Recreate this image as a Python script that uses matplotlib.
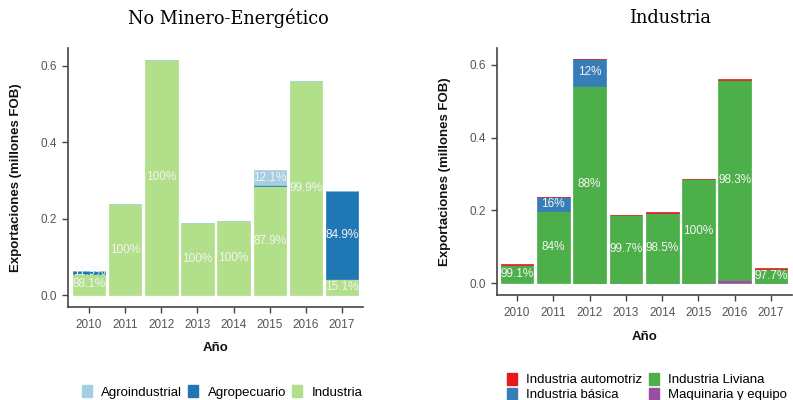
import numpy as np
import matplotlib
matplotlib.use("Agg")
import matplotlib.pyplot as plt
from matplotlib.patches import Patch

# ---------------- data ----------------
years = ["2010", "2011", "2012", "2013", "2014", "2015", "2016", "2017"]

# No Minero-Energetico: totals (millones FOB) and shares (%)
total_ne = [0.063, 0.2385, 0.616, 0.189, 0.194, 0.325, 0.561, 0.272]
pct_industria = [88.1, 99.97, 99.97, 99.97, 99.97, 87.9, 99.9, 15.1]
pct_agropecuario = [11.9, 0.0, 0.0, 0.0, 0.0, 0.4, 0.0, 84.9]
pct_agroindustrial = [0.03, 0.03, 0.03, 0.03, 0.03, 12.1, 0.1, 0.03]

# Industria: totals and shares (%)
total_ind = [0.052, 0.238, 0.616, 0.1876, 0.195, 0.2857, 0.560, 0.041]
pct_maquinaria = [0.0, 0.0, 0.05, 0.05, 0.05, 0.05, 1.5, 0.3]
pct_liviana = [99.1, 84.0, 88.0, 99.7, 98.5, 99.97, 98.3, 97.7]
pct_basica = [0.0, 16.0, 12.0, 0.0, 0.8, 0.0, 0.0, 0.0]
pct_automotriz = [0.9, 0.1, 0.1, 0.2, 0.6, 0.1, 0.2, 2.0]

left_series = [("Industria", pct_industria, "#b2df8a"),
               ("Agropecuario", pct_agropecuario, "#1f78b4"),
               ("Agroindustrial", pct_agroindustrial, "#a6cee3")]
right_series = [("Maquinaria y equipo", pct_maquinaria, "#984ea3"),
                ("Industria Liviana", pct_liviana, "#4daf4a"),
                ("Industria básica", pct_basica, "#377eb8"),
                ("Industria automotriz", pct_automotriz, "#e41a1c")]

SANS = ["Liberation Sans", "DejaVu Sans"]
AXCOL = "#444444"


def fmt_pct(p):
    s = "%.1f" % p
    if s.endswith(".0"):
        s = s[:-2]
    return s + "%"


def stacked(ax, totals, series):
    x = np.arange(1, len(years) + 1)
    bottom = np.zeros(len(years))
    for name, pct, col in series:
        h = np.array(totals) * np.array(pct) / 100.0
        for i in range(len(x)):
            if h[i] <= 0:
                continue
            ax.bar(x[i], h[i], bottom=bottom[i], width=0.9, color=col,
                   edgecolor=col, linewidth=0.5)
            if pct[i] >= 5:
                ax.text(x[i], bottom[i] + h[i] / 2, fmt_pct(pct[i]),
                        ha="center", va="center", color="#f4f4f4",
                        fontsize=8.5, family=SANS)
        bottom = bottom + h
    ax.set_xticks(x)
    ax.set_xticklabels(years)
    ax.set_yticks([0.0, 0.2, 0.4, 0.6])
    ax.set_yticklabels(["0.0", "0.2", "0.4", "0.6"])
    for s in ["top", "right"]:
        ax.spines[s].set_visible(False)
    for s in ["left", "bottom"]:
        ax.spines[s].set_color(AXCOL)
        ax.spines[s].set_linewidth(1.2)
    ax.tick_params(colors=AXCOL, labelcolor="#555555", labelsize=8.5,
                   length=4, width=1.0)
    ax.tick_params(axis="x", pad=5)
    ax.tick_params(axis="y", pad=4)
    for lab in ax.get_xticklabels() + ax.get_yticklabels():
        lab.set_family(SANS)
    ax.set_xlabel("Año", fontsize=9.5, fontweight="bold", family=SANS,
                  color="#111111", labelpad=8)
    ax.set_ylabel("Exportaciones (millones FOB)", fontsize=9.5,
                  fontweight="bold", family=SANS, color="#111111", labelpad=13)


fig = plt.figure(figsize=(7.93, 4.0), dpi=100)
ax1 = fig.add_axes([0.0858, 0.233, 0.372, 0.647])
ax2 = fig.add_axes([0.6264, 0.2625, 0.372, 0.617])

stacked(ax1, total_ne, left_series)
ax1.set_xlim(0.419, 8.58)
ax1.set_ylim(-0.0307, 0.647)

stacked(ax2, total_ind, right_series)
ax2.set_xlim(0.441, 8.57)
ax2.set_ylim(-0.0321, 0.6456)

fig.text(228 / 793, 1 - 18 / 400, "No Minero-Energético", ha="center",
         va="center", fontsize=12.8, family="DejaVu Serif")
fig.text(670 / 793, 1 - 18 / 400, "Industria", ha="center",
         va="center", fontsize=12.8, family="DejaVu Serif")

# legends
h1 = [Patch(color=c, label=n) for n, _, c in
      [left_series[2], left_series[1], left_series[0]]]
fig.legend(handles=h1, loc="center", bbox_to_anchor=(0.28, 0.02), ncol=3,
           frameon=False, prop={"family": SANS, "size": 9.5},
           handlelength=0.75, handleheight=1.0, handletextpad=0.7,
           columnspacing=0.5, borderpad=0.0)
h2 = [Patch(color=c, label=n) for n, _, c in
      [right_series[3], right_series[2], right_series[1], right_series[0]]]
fig.legend(handles=h2, loc="upper left", bbox_to_anchor=(507 / 793, 1 - 373 / 400),
           ncol=2, frameon=False, prop={"family": SANS, "size": 9.5},
           handlelength=0.75, handleheight=1.0, handletextpad=0.7,
           columnspacing=0.5, labelspacing=0.1, borderpad=0.0,
           borderaxespad=0.0)

fig.savefig("out.png", dpi=100)
